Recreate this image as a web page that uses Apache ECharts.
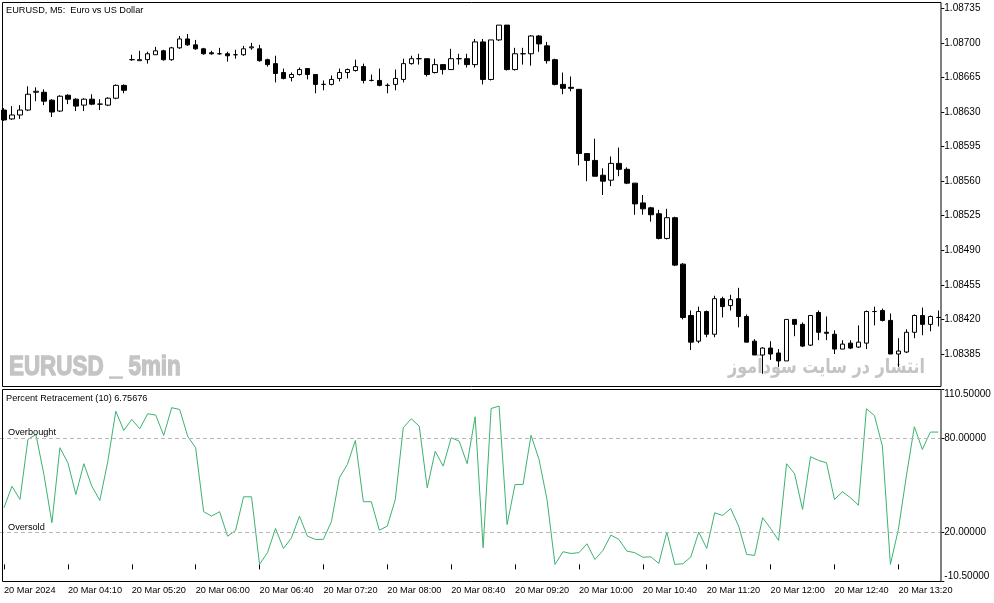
<!DOCTYPE html>
<html><head><meta charset="utf-8">
<script src="https://cdn.jsdelivr.net/npm/echarts@6/dist/echarts.min.js"></script>
<style>html,body{margin:0;padding:0;background:#fff}#c{width:994px;height:603px}</style>
</head><body><div id="c"></div>
<script>
const categories = [
"03:30","03:35","03:40","03:45","03:50","03:55","04:00","04:05",
"04:10","04:15","04:20","04:25","04:30","04:35","04:40","04:45",
"05:20","05:25","05:30","05:35","05:40","05:45","05:50","05:55",
"06:00","06:05","06:10","06:15","06:20","06:25","06:30","06:35",
"06:40","06:45","06:50","06:55","07:00","07:05","07:10","07:15",
"07:20","07:25","07:30","07:35","07:40","07:45","07:50","07:55",
"08:00","08:05","08:10","08:15","08:20","08:25","08:30","08:35",
"08:40","08:45","08:50","08:55","09:00","09:05","09:10","09:15",
"09:20","09:25","09:30","09:35","09:40","09:45","09:50","09:55",
"10:00","10:05","10:10","10:15","10:20","10:25","10:30","10:35",
"10:40","10:45","10:50","10:55","11:00","11:05","11:10","11:15",
"11:20","11:25","11:30","11:35","11:40","11:45","11:50","11:55",
"12:00","12:05","12:10","12:15","12:20","12:25","12:30","12:35",
"12:40","12:45","12:50","12:55","13:00","13:05","13:10","13:15",
"13:20","13:25","13:30","13:35","13:40","13:45"
];
const xTickLabels = ["20 Mar 2024","20 Mar 04:10","20 Mar 05:20","20 Mar 06:00","20 Mar 06:40","20 Mar 07:20","20 Mar 08:00","20 Mar 08:40","20 Mar 09:20","20 Mar 10:00","20 Mar 10:40","20 Mar 11:20","20 Mar 12:00","20 Mar 12:40","20 Mar 13:20"];
// [open, close, low, high]
const candles = [
[1.08632,1.08622,1.08621,1.08634],[1.08623,1.08627,1.08622,1.08636],[1.08627,1.08632,1.08623,1.08637],[1.08632,1.08648,1.08631,1.08656],
[1.08650,1.08651,1.08641,1.08655],[1.08650,1.08641,1.08637,1.08653],[1.08642,1.08630,1.08625,1.08643],[1.08631,1.08646,1.08630,1.08647],
[1.08647,1.08643,1.08638,1.08648],[1.08643,1.08636,1.08631,1.08644],[1.08637,1.08643,1.08631,1.08644],[1.08643,1.08638,1.08637,1.08648],
[1.08638,1.08638,1.08632,1.08643],[1.08637,1.08644,1.08636,1.08645],[1.08644,1.08657,1.08643,1.08658],[1.08657,1.08652,1.08649,1.08658],
[1.08683,1.08683,1.08682,1.08688],[1.08682,1.08683,1.08682,1.08692],[1.08683,1.08689,1.08679,1.08691],[1.08688,1.08692,1.08688,1.08696],
[1.08692,1.08683,1.08682,1.08693],[1.08683,1.08695,1.08682,1.08696],[1.08695,1.08704,1.08694,1.08707],[1.08704,1.08698,1.08697,1.08709],
[1.08698,1.08694,1.08693,1.08703],[1.08694,1.08689,1.08688,1.08695],[1.08690,1.08689,1.08688,1.08692],[1.08689,1.08689,1.08688,1.08695],
[1.08689,1.08687,1.08681,1.08691],[1.08688,1.08688,1.08684,1.08693],[1.08688,1.08694,1.08687,1.08697],[1.08695,1.08696,1.08693,1.08700],
[1.08694,1.08682,1.08681,1.08698],[1.08683,1.08678,1.08676,1.08684],[1.08679,1.08669,1.08660,1.08687],[1.08670,1.08664,1.08663,1.08674],
[1.08665,1.08668,1.08661,1.08670],[1.08668,1.08673,1.08667,1.08675],[1.08674,1.08668,1.08663,1.08674],[1.08668,1.08658,1.08649,1.08668],
[1.08658,1.08658,1.08652,1.08662],[1.08658,1.08663,1.08657,1.08667],[1.08664,1.08670,1.08661,1.08674],[1.08670,1.08673,1.08664,1.08674],
[1.08672,1.08676,1.08671,1.08683],[1.08676,1.08662,1.08659,1.08679],[1.08662,1.08662,1.08661,1.08668],[1.08662,1.08657,1.08656,1.08674],
[1.08657,1.08657,1.08649,1.08659],[1.08658,1.08664,1.08652,1.08673],[1.08663,1.08679,1.08660,1.08684],[1.08679,1.08684,1.08678,1.08687],
[1.08684,1.08684,1.08678,1.08689],[1.08684,1.08668,1.08666,1.08684],[1.08670,1.08678,1.08669,1.08684],[1.08678,1.08673,1.08668,1.08678],
[1.08673,1.08684,1.08673,1.08694],[1.08684,1.08684,1.08678,1.08689],[1.08684,1.08678,1.08675,1.08689],[1.08678,1.08701,1.08675,1.08704],
[1.08701,1.08663,1.08658,1.08704],[1.08663,1.08703,1.08662,1.08703],[1.08703,1.08718,1.08702,1.08718],[1.08718,1.08673,1.08672,1.08718],
[1.08673,1.08689,1.08672,1.08695],[1.08689,1.08689,1.08678,1.08695],[1.08689,1.08707,1.08677,1.08708],[1.08707,1.08699,1.08691,1.08708],
[1.08697,1.08682,1.08679,1.08701],[1.08683,1.08658,1.08657,1.08684],[1.08658,1.08654,1.08648,1.08670],[1.08655,1.08654,1.08651,1.08666],
[1.08653,1.08588,1.08576,1.08653],[1.08588,1.08581,1.08560,1.08588],[1.08581,1.08565,1.08565,1.08603],[1.08566,1.08560,1.08546,1.08573],
[1.08561,1.08578,1.08555,1.08585],[1.08578,1.08572,1.08565,1.08594],[1.08572,1.08558,1.08557,1.08574],[1.08558,1.08537,1.08526,1.08558],
[1.08538,1.08532,1.08526,1.08546],[1.08533,1.08526,1.08519,1.08534],[1.08527,1.08502,1.08501,1.08531],[1.08502,1.08523,1.08501,1.08532],
[1.08523,1.08475,1.08474,1.08524],[1.08476,1.08422,1.08420,1.08477],[1.08424,1.08397,1.08389,1.08429],[1.08398,1.08428,1.08396,1.08433],
[1.08428,1.08405,1.08402,1.08429],[1.08405,1.08441,1.08402,1.08444],[1.08441,1.08433,1.08422,1.08443],[1.08434,1.08440,1.08429,1.08445],
[1.08441,1.08423,1.08412,1.08452],[1.08423,1.08397,1.08397,1.08425],[1.08398,1.08384,1.08384,1.08400],[1.08384,1.08391,1.08365,1.08392],
[1.08391,1.08385,1.08379,1.08398],[1.08386,1.08378,1.08372,1.08390],[1.08378,1.08420,1.08378,1.08420],[1.08420,1.08415,1.08403,1.08420],
[1.08415,1.08393,1.08392,1.08417],[1.08394,1.08424,1.08393,1.08424],[1.08427,1.08407,1.08399,1.08429],[1.08407,1.08406,1.08399,1.08423],
[1.08405,1.08390,1.08385,1.08409],[1.08390,1.08395,1.08390,1.08399],[1.08396,1.08391,1.08390,1.08399],[1.08392,1.08397,1.08391,1.08414],
[1.08396,1.08428,1.08390,1.08429],[1.08428,1.08428,1.08414,1.08433],[1.08429,1.08419,1.08418,1.08431],[1.08419,1.08385,1.08385,1.08426],
[1.08385,1.08388,1.08372,1.08401],[1.08387,1.08407,1.08386,1.08410],[1.08407,1.08424,1.08401,1.08425],[1.08424,1.08415,1.08404,1.08432],
[1.08415,1.08423,1.08408,1.08424],[1.08422,1.08422,1.08413,1.08429]
];
const percentValues = [
35.8,49.4,41,79,82,56.8,26.3,73.7,64.2,44.2,63.6,49.4,40.4,65,96.8,84.6,
91.6,85.7,95.2,94.3,81.5,99,97.9,81,73.7,33.3,30.5,33.3,17.8,21.4,42.7,42.7,
0,7.4,22.7,10,16.8,30.5,17.8,15.8,15.8,27,54.7,63.1,78.3,39.6,39.6,21.6,
24.2,41,86.3,92,87.3,48.4,71.5,62.1,80,77.9,63.6,93.3,10.5,98.5,100,25.2,
50.5,50.5,81.6,66.3,41,0,8,6.9,7.4,13,3.1,8.8,18.5,15.8,8.4,7.4,
4.5,4.8,0.6,20.4,0,0.4,4.6,20.4,10.1,32.6,30.9,35.3,24.2,6.3,5.7,29.5,
22.7,15.1,63.6,57.3,34.7,68,65.7,64.2,41,45.9,42.1,37.4,98.3,94.1,74.7,0,
22.1,55.8,87,72.6,83.6,83.6
];
const priceTicks = [1.08385,1.08420,1.08455,1.08490,1.08525,1.08560,1.08595,1.08630,1.08665,1.08700,1.08735];
const pctTicks = [-10.5,20,80,110.5];
const levelValues = [80,20];
const levelNames = ["Overbought","Oversold"];

const chart = echarts.init(document.getElementById('c'), null, {renderer:'canvas'});
const FONT = 'Liberation Sans';
chart.setOption({
  animation:false,
  backgroundColor:'#fff',
  grid:[
    {left:-1.7, right:51.7, top:2.7, height:383.3},
    {left:-1.7, right:51.7, top:389.5, height:191.5}
  ],
  xAxis:[
    {type:'category', gridIndex:0, data:categories, boundaryGap:true, show:false},
    {type:'category', gridIndex:1, data:categories, boundaryGap:true,
     axisLine:{show:false},
     axisTick:{show:true, interval:7, alignWithLabel:true, length:5, lineStyle:{color:'#000'}},
     axisLabel:{interval:7, align:'left', margin:5, color:'#000', fontSize:9.2, fontFamily:FONT,
       formatter:(v,i)=> (i%8===0 && xTickLabels[i/8]) ? xTickLabels[i/8] : ''},
     splitLine:{show:false}}
  ],
  yAxis:[
    {type:'value', gridIndex:0, position:'right', min:1.083526, max:1.087407, offset:-1,
     axisLine:{show:false},
     axisTick:{show:true, customValues:priceTicks, length:3, lineStyle:{color:'#000'}},
     axisLabel:{customValues:priceTicks, formatter:v=>v.toFixed(5), color:'#000', fontSize:10, fontFamily:FONT, margin:3},
     splitLine:{show:false}},
    {type:'value', gridIndex:1, position:'right', min:-10.5, max:110.5, offset:-1,
     axisLine:{show:false},
     axisTick:{show:true, customValues:pctTicks, length:3, lineStyle:{color:'#000'}},
     axisLabel:{customValues:pctTicks, formatter:v=>v.toFixed(5), color:'#000', fontSize:10, fontFamily:FONT, margin:3,
       verticalAlignMaxLabel:'top', verticalAlignMinLabel:'bottom'},
     splitLine:{show:false}}
  ],
  series:[
    {type:'candlestick', xAxisIndex:0, yAxisIndex:0, data:candles, barWidth:5,
     itemStyle:{color:'#fff', color0:'#000', borderColor:'#000', borderColor0:'#000', borderColorDoji:'#000', borderWidth:1}},
    {type:'line', xAxisIndex:1, yAxisIndex:1, data:percentValues, showSymbol:false, symbol:'none',
     lineStyle:{color:'#3cb371', width:1},
     markLine:{silent:true, symbol:['none','none'],
       data:levelValues.map((v,i)=>({yAxis:v, name:levelNames[i]})),
       lineStyle:{color:'#b8b8b8', type:[4,3], width:1},
       label:{show:true, position:'insideStartTop', formatter:'{b}', color:'#000', fontSize:9.2, fontFamily:FONT, distance:[8,1]}}}
  ],
  graphic:[
    {type:'rect', silent:true, z:100, shape:{x:2.5,y:2.5,width:938.5,height:384}, style:{fill:null, stroke:'#000', lineWidth:1}},
    {type:'rect', silent:true, z:100, shape:{x:2.5,y:389.5,width:938.5,height:192}, style:{fill:null, stroke:'#000', lineWidth:1}},
    {type:'text', silent:true, z:100, x:6, y:10, style:{text:'EURUSD, M5:  Euro vs US Dollar', font:'9.2px "Liberation Sans"', fill:'#000', verticalAlign:'middle'}},
    {type:'text', silent:true, z:100, x:6, y:398.5, style:{text:'Percent Retracement (10) 6.75676', font:'9.2px "Liberation Sans"', fill:'#000', verticalAlign:'middle'}},
    {type:'text', silent:true, z:1, x:9, y:367, scaleX:0.8, style:{text:'EURUSD _ 5min', font:'bold 28px "Liberation Sans"', fill:'#c4c4c4', stroke:'#c4c4c4', lineWidth:1.4, verticalAlign:'middle'}},
    {type:'text', silent:true, z:1, x:925, y:368, scaleX:0.8, style:{text:'انتشار در سایت سودآموز', font:'bold 20px "DejaVu Sans"', fill:'#c4c4c4', align:'right', verticalAlign:'middle'}}
  ]
});
</script>
</body></html>
